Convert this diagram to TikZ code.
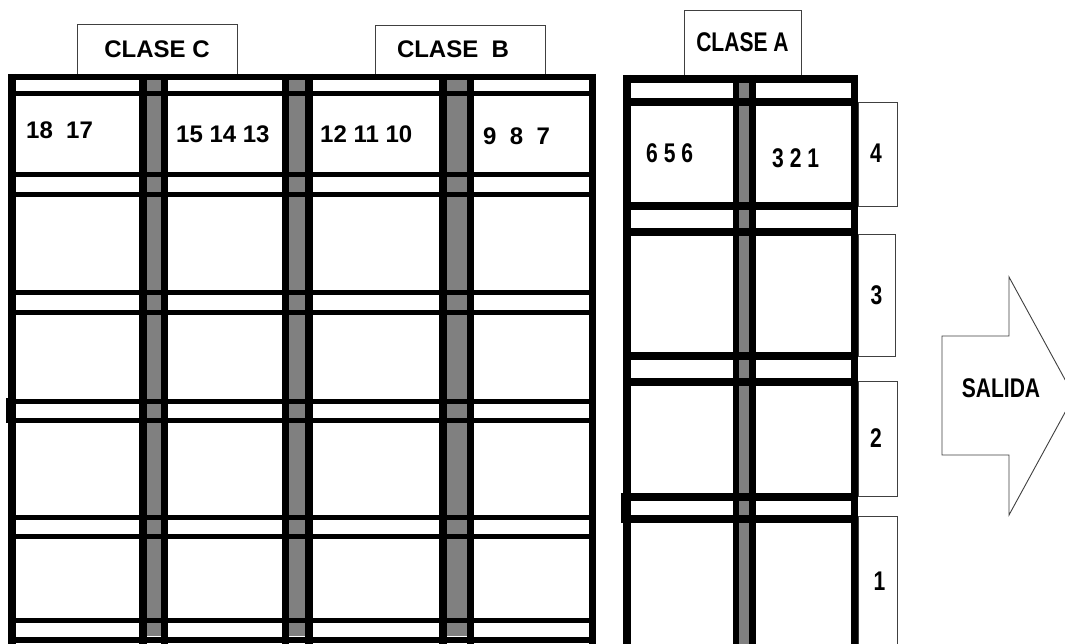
\documentclass[tikz,border=0pt]{standalone}
\usepackage{fontspec}
\setmainfont{Liberation Sans}
\newfontfamily\narrowfont[FakeStretch=0.78]{Liberation Sans}

\begin{document}
\begin{tikzpicture}[x=1pt, y=-1pt,
  tab/.style={draw=black!75, line width=0.9pt, fill=white, inner sep=0pt},
  widetext/.style={font=\fontsize{24}{28}\selectfont\bfseries, inner sep=0pt},
  narrowtext/.style={font=\narrowfont\fontsize{27}{30}\selectfont\bfseries, inner sep=0pt},
  post/.style={fill=black!50}]
\clip (0,0) rectangle (1065,644);
\fill[white] (0,0) rectangle (1065,644);
% labels on top and on the side
\node[tab, widetext, minimum width=160pt, minimum height=50pt] (claseC) at (157,49) {\raisebox{-3pt}{CLASE C}};
\node[tab, widetext, minimum width=170pt, minimum height=49pt] (claseB) at (460,49.5) {\hspace*{-14pt}\raisebox{-2pt}{CLASE\ \ B}};
\node[tab, narrowtext, minimum width=117pt, minimum height=65pt] (claseA) at (742.5,42.5) {CLASE A};
\node[tab, narrowtext, minimum width=39pt, minimum height=104pt] (nivel4) at (877.5,154) {\hspace*{-3pt}\raisebox{2pt}{4}};
\node[tab, narrowtext, minimum width=37pt, minimum height=122pt] (nivel3) at (876.5,295) {\raisebox{-10pt}{3}};
\node[tab, narrowtext, minimum width=39pt, minimum height=115pt] (nivel2) at (877.5,438.5) {\hspace*{-3pt}\raisebox{-2pt}{2}};
\node[tab, narrowtext, minimum width=39pt, minimum height=130pt] (nivel1) at (877.5,581) {\hspace*{4pt}1};
% left rack
\fill[post] (147,80) rectangle (161,636);
\fill[post] (289,80) rectangle (305,636);
\fill[post] (447,80) rectangle (467,636);
\draw[line width=6pt] (8,77) -- (596,77);
\draw[line width=5pt] (8,93.5) -- (596,93.5);
\draw[line width=5pt] (8,175) -- (596,175);
\draw[line width=5pt] (8,195) -- (596,195);
\draw[line width=5pt] (8,292) -- (596,292);
\draw[line width=5pt] (8,312) -- (596,312);
\draw[line width=5pt] (8,401) -- (596,401);
\draw[line width=5pt] (8,420) -- (596,420);
\draw[line width=5pt] (8,517.5) -- (596,517.5);
\draw[line width=5pt] (8,536) -- (596,536);
\draw[line width=5pt] (8,620) -- (596,620);
\draw[line width=6pt] (8,640) -- (596,640);
\fill (6,398) rectangle (16,423);
\draw[line width=8pt] (12,74) -- (12,644);
\draw[line width=8pt] (143,74) -- (143,644);
\draw[line width=7pt] (164.5,74) -- (164.5,644);
\draw[line width=7pt] (285.5,74) -- (285.5,644);
\draw[line width=8pt] (309,74) -- (309,644);
\draw[line width=8pt] (443,74) -- (443,644);
\draw[line width=7pt] (470.5,74) -- (470.5,644);
\draw[line width=7pt] (592.5,74) -- (592.5,644);
% right rack
\fill[post] (739,83) rectangle (749,644);
\draw[line width=8pt] (623,79) -- (858,79);
\draw[line width=8pt] (623,102) -- (858,102);
\draw[line width=8pt] (623,206) -- (858,206);
\draw[line width=8pt] (623,232.5) -- (858,232.5);
\draw[line width=8pt] (623,356) -- (858,356);
\draw[line width=8pt] (623,381.5) -- (858,381.5);
\draw[line width=8pt] (623,497) -- (858,497);
\draw[line width=8pt] (623,519) -- (858,519);
\fill (621,493) rectangle (631,523);
\draw[line width=8pt] (627,75) -- (627,644);
\draw[line width=6pt] (736,75) -- (736,644);
\draw[line width=7pt] (752.5,75) -- (752.5,644);
\draw[line width=7pt] (854.5,75) -- (854.5,644);
% contents
\node[widetext, anchor=west] (n18) at (26,130) {18\ \ 17};
\node[widetext, anchor=west] (n15) at (176,134) {15 14 13};
\node[widetext, anchor=west] (n12) at (320,134) {12 11 10};
\node[widetext, anchor=west] (n9) at (483,136) {9\ \ 8\ \ 7};
\node[narrowtext, anchor=west] (n656) at (646,153) {6 5 6};
\node[narrowtext, anchor=west] (n321) at (772,158) {3 2 1};
% exit
\draw[draw=black!75, line width=0.9pt] (942,336) -- (1009,336) -- (1009,277) -- (1074,396)
  -- (1009,515) -- (1009,455) -- (942,455) -- cycle;
\node[narrowtext] (salida) at (1001,388) {SALIDA};
\end{tikzpicture}
\end{document}
